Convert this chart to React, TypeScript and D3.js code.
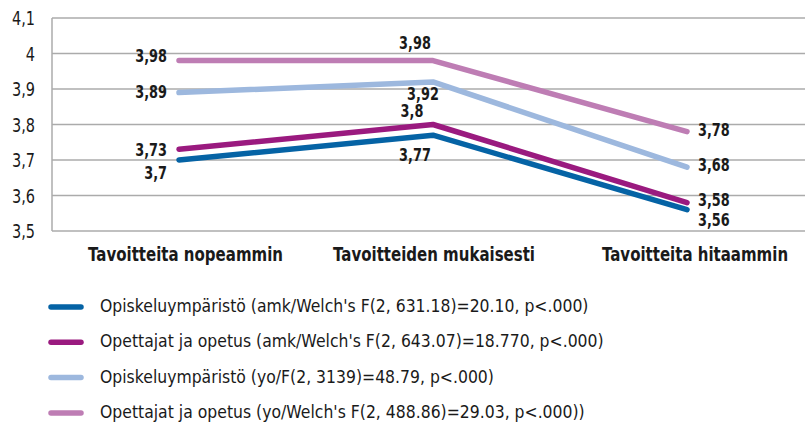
import React from "react";
import * as d3 from "d3";

const categories = ["Tavoitteita nopeammin", "Tavoitteiden mukaisesti", "Tavoitteita hitaammin"];
const seriesNames = [
  "Opiskeluympäristö (amk/Welch's F(2, 631.18)=20.10, p<.000)",
  "Opettajat ja opetus (amk/Welch's F(2, 643.07)=18.770, p<.000)",
  "Opiskeluympäristö (yo/F(2, 3139)=48.79, p<.000)",
  "Opettajat ja opetus (yo/Welch's F(2, 488.86)=29.03, p<.000))",
];
const amkEnvironment = [3.7, 3.77, 3.56];
const amkTeachers = [3.73, 3.8, 3.58];
const yoEnvironment = [3.89, 3.92, 3.68];
const yoTeachers = [3.98, 3.98, 3.78];
const yTicks = [3.5, 3.6, 3.7, 3.8, 3.9, 4.0, 4.1];

const seriesValues = [amkEnvironment, amkTeachers, yoEnvironment, yoTeachers];
const colors = ["#0563a5", "#9a1a7f", "#9db8de", "#be7db4"];
// label placement per series per point: [dx, dy, anchor]
const labelPlace: [number, number, string][][] = [
  [[-12, 13, "end"], [-18, 20, "middle"], [11, 10, "start"]],
  [[-12, 0, "end"], [-21, -13.5, "middle"], [11, -2.6, "start"]],
  [[-12, -1, "end"], [-10, 12, "middle"], [11, -2, "start"]],
  [[-12, -4.6, "end"], [-18, -17.6, "middle"], [11, -1.6, "start"]],
];

const FONT = "'DejaVu Sans', sans-serif";

function SText(props: { x: number; y: number; sx: number; size: number; bold?: boolean; anchor?: string; children: any }) {
  const { x, y, sx, size, bold, anchor, children } = props;
  return (
    <g transform={`translate(${x},${y}) scale(${sx},1)`}>
      <text x={0} y={0} textAnchor={(anchor || "start") as any} fontSize={size} fontWeight={bold ? "bold" : "normal"} fill="#1a1a1a">
        {children}
      </text>
    </g>
  );
}

export default function App() {
  const W = 805, H = 427;
  const x = d3.scalePoint<string>().domain(categories).range([179, 687]);
  const y = d3.scaleLinear().domain([3.5, 4.1]).range([231, 18]);
  const fmt = (v: number) => String(v).replace(".", ",");
  const line = d3.line<number>().x((_, i) => x(categories[i])!).y((v) => y(v));
  const drawOrder = [3, 2, 1, 0];
  return (
    <svg width={W} height={H} style={{ position: "absolute", left: 0, top: 0, background: "#fff" }} fontFamily={FONT}>
      {yTicks.map((t) => (
        <g key={t}>
          <line x1={52} x2={W} y1={y(t)} y2={y(t)} stroke="#ababab" strokeWidth={1.5} />
          <SText x={35} y={y(t) + 7.1} sx={0.74} size={19.6} anchor="end">
            {fmt(+t.toFixed(1))}
          </SText>
        </g>
      ))}
      <line x1={52} x2={52} y1={y(4.1)} y2={y(3.5)} stroke="#ababab" strokeWidth={1.5} />
      {categories.map((c, i) => (
        <SText key={c} x={x(c)! + [6.5, 1, 8][i]} y={261} sx={0.79} size={19} bold anchor="middle">
          {c}
        </SText>
      ))}
      {drawOrder.map((s) => (
        <path key={s} d={line(seriesValues[s])!} fill="none" stroke={colors[s]} strokeWidth={5.5} strokeLinecap="round" strokeLinejoin="round" />
      ))}
      {seriesValues.map((vals, s) =>
        vals.map((v, i) => {
          const [dx, dy, anchor] = labelPlace[s][i];
          return (
            <SText key={`${s}-${i}`} x={x(categories[i])! + dx} y={y(v) + dy + 6.3} sx={0.74} size={17.4} bold anchor={anchor}>
              {fmt(v)}
            </SText>
          );
        })
      )}
      {seriesNames.map((n, s) => (
        <g key={n} transform={`translate(0, ${307 + s * 35.3})`}>
          <line x1={51} x2={81} y1={0} y2={0} stroke={colors[s]} strokeWidth={5.5} strokeLinecap="round" />
          <SText x={100} y={5} sx={0.9} size={17.4}>
            {n}
          </SText>
        </g>
      ))}
    </svg>
  );
}
